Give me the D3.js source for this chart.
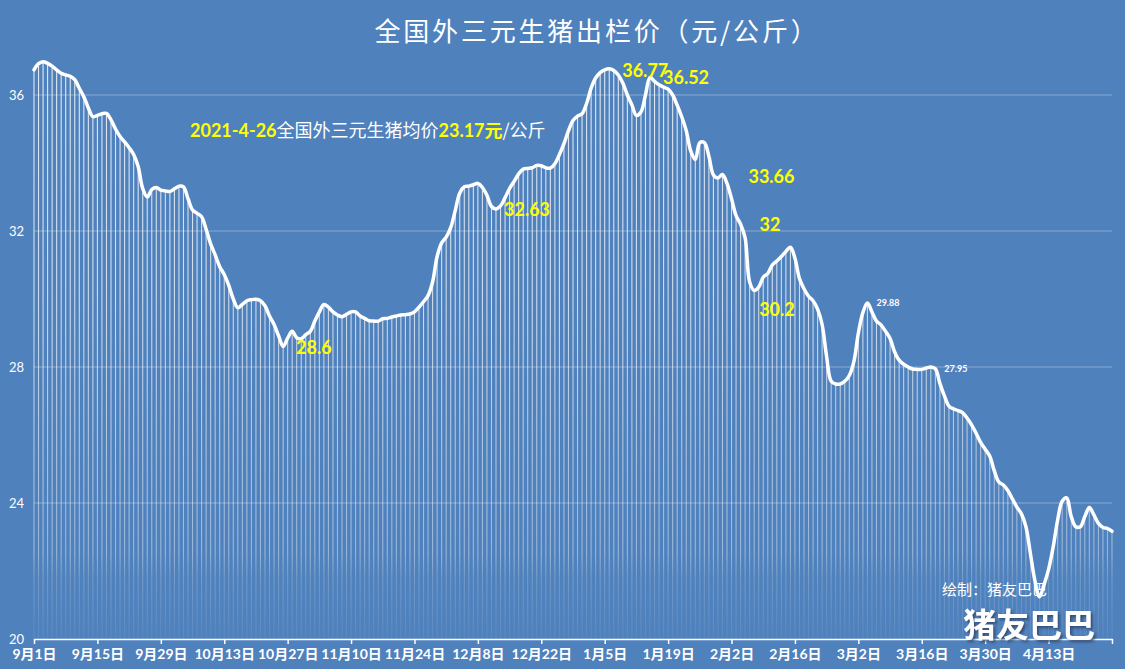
<!DOCTYPE html>
<html><head><meta charset="utf-8">
<script src="https://cdn.jsdelivr.net/npm/d3@7"></script>
<style>html,body{margin:0;padding:0;background:#4f81bd;} svg{display:block;}</style>
</head><body>
<svg id="chart" width="1125" height="669"></svg>
<script>
// ---- data ----
const titleText = "全国外三元生猪出栏价（元/公斤）";
const startDate = "2020-09-01";
// daily price, day 0 = 9月1日
const prices = [
36.74,36.92,36.98,36.93,36.85,36.74,36.64,36.59,36.55,36.45,
36.2,35.95,35.62,35.36,35.4,35.45,35.46,35.27,35.0,34.78,
34.62,34.45,34.25,33.9,33.25,33.0,33.22,33.28,33.2,33.18,
33.16,33.24,33.32,33.3,32.95,32.62,32.52,32.42,32.05,31.62,
31.3,30.95,30.72,30.4,30.0,29.74,29.84,29.95,29.98,29.99,
29.95,29.8,29.5,29.25,28.92,28.6,28.85,29.05,28.86,28.83,
28.95,29.05,29.35,29.62,29.84,29.76,29.62,29.53,29.48,29.55,
29.62,29.62,29.5,29.43,29.36,29.35,29.35,29.42,29.43,29.47,
29.5,29.53,29.54,29.56,29.62,29.76,29.92,30.1,30.5,31.25,
31.65,31.82,32.1,32.6,33.12,33.3,33.32,33.36,33.4,33.28,
33.05,32.72,32.65,32.74,32.98,33.25,33.46,33.68,33.82,33.84,
33.86,33.93,33.92,33.86,33.85,33.98,34.25,34.57,34.95,35.25,
35.38,35.45,35.75,36.2,36.5,36.66,36.74,36.77,36.72,36.59,
36.35,36.0,35.71,35.4,35.5,36.0,36.52,36.4,36.3,36.23,
36.17,36.0,35.7,35.36,34.95,34.35,34.1,34.6,34.6,34.2,
33.65,33.56,33.66,33.4,32.95,32.45,32.2,31.8,30.5,30.25,
30.35,30.64,30.75,31.0,31.12,31.25,31.4,31.52,31.2,30.6,
30.3,30.08,29.95,29.7,29.25,28.3,27.58,27.5,27.5,27.58,
27.75,28.15,29.0,29.6,29.88,29.62,29.35,29.24,29.05,28.84,
28.45,28.2,28.08,28.0,27.94,27.93,27.93,27.97,28.0,27.95,
27.52,27.15,26.85,26.77,26.72,26.66,26.5,26.3,26.05,25.78,
25.58,25.38,24.95,24.62,24.53,24.37,24.12,23.88,23.68,23.3,
22.5,21.7,21.24,21.6,22.05,22.7,23.5,24.05,24.15,23.6,
23.3,23.3,23.6,23.87,23.65,23.4,23.28,23.25,23.17
];
const yTicks = [20, 24, 28, 32, 36];
const xTickDays = [0,14,28,42,56,70,84,98,112,126,140,154,168,182,196,210,224,238];
const xTickLabels = ["9月1日","9月15日","9月29日","10月13日","10月27日","11月10日","11月24日","12月8日","12月22日","1月5日","1月19日","2月2日","2月16日","3月2日","3月16日","3月30日","4月13日",""];
// big yellow value labels
const bigLabelDays = [127, 136, 152, 156, 159, 102, 55];
const bigLabelTexts = ["36.77", "36.52", "33.66", "32", "30.2", "32.63", "28.6"];
const bigLabelDx = [13, 13, 26, 19, 5, 8, 13];
const bigLabelDy = [8, 7, 8, 7, 25, 7, 7];
const smallLabelDays = [184, 199];
const smallLabelTexts = ["29.88", "27.95"];
const noteParts = [["2021-4-26","y"],["全国外三元生猪均价","w"],["23.17元","y"],["/公斤","w"]];
const creditText = "绘制：猪友巴巴";
const brandText = "猪友巴巴";

// ---- drawing ----
const svg = d3.select("#chart");
const W = 1125, H = 669;
const x = d3.scaleLinear().domain([0, 238]).range([34, 1112]);
const y = d3.scaleLinear().domain([20, 38]).range([639, 27]);
const data = prices.map((v, i) => ({i, v}));
const numFont = "Lato, 'Noto Sans CJK SC', sans-serif";
const cjkFont = "'Noto Sans CJK SC', 'Noto Sans', sans-serif";

svg.append("rect").attr("width", W).attr("height", H).attr("fill", "#4f81bd");

const defs = svg.append("defs");
const g1 = defs.append("linearGradient").attr("id", "dropGrad")
  .attr("gradientUnits", "userSpaceOnUse")
  .attr("x1", 0).attr("x2", 0).attr("y1", y(38)).attr("y2", y(20));
[[0, 0.85], [0.45, 0.72], [0.86, 0.42], [0.9, 0.2], [1, 0.06]].forEach(([o, a]) =>
  g1.append("stop").attr("offset", o).attr("stop-color", "#fff").attr("stop-opacity", a));
const sh = defs.append("filter").attr("id", "shadow").attr("x", "-10%").attr("y", "-20%").attr("width", "130%").attr("height", "150%");
sh.append("feDropShadow").attr("dx", 2).attr("dy", 2).attr("stdDeviation", 1.5).attr("flood-color", "#2a3f5c").attr("flood-opacity", 0.8);

// gridlines
svg.append("g").selectAll("line").data(yTicks.filter(t => t > 20)).join("line")
  .attr("x1", x(0)).attr("x2", x(238))
  .attr("y1", d => y(d)).attr("y2", d => y(d))
  .attr("stroke", "#fff").attr("stroke-opacity", 0.35).attr("stroke-width", 1);

// drop lines
svg.append("g").selectAll("line").data(data).join("line")
  .attr("x1", d => x(d.i)).attr("x2", d => x(d.i))
  .attr("y1", d => y(d.v)).attr("y2", y(20))
  .attr("stroke", "url(#dropGrad)").attr("stroke-width", 1.1);

// main line
svg.append("path").datum(data)
  .attr("d", d3.line().x(d => x(d.i)).y(d => y(d.v)).curve(d3.curveCatmullRom.alpha(0.5)))
  .attr("fill", "none").attr("stroke", "#fff").attr("stroke-width", 3.5)
  .attr("stroke-linejoin", "round").attr("stroke-linecap", "round");

// x axis
const xAxis = svg.append("g").attr("transform", `translate(0,${y(20)})`)
  .call(d3.axisBottom(x).tickValues(xTickDays).tickFormat((d, i) => xTickLabels[i]).tickSize(5).tickSizeOuter(0).tickPadding(5));
xAxis.select(".domain").attr("stroke", "#fff").attr("stroke-width", 1.5);
xAxis.selectAll(".tick line").attr("stroke", "#fff").attr("stroke-width", 1.5);
xAxis.selectAll(".tick text").attr("fill", "#fff").attr("font-size", 14).attr("font-weight", "bold")
  .attr("font-family", numFont);

// y axis labels
const yAxis = svg.append("g").attr("transform", `translate(${x(0)},0)`)
  .call(d3.axisLeft(y).tickValues(yTicks).tickSize(0).tickPadding(10));
yAxis.select(".domain").remove();
yAxis.selectAll(".tick text").attr("fill", "#fff").attr("font-size", 13).attr("font-family", numFont);

// title
svg.append("text").attr("x", 597).attr("y", 41).attr("text-anchor", "middle")
  .attr("fill", "#fff").attr("font-size", 26).attr("letter-spacing", 2.8)
  .attr("font-family", cjkFont).text(titleText);

// yellow labels
svg.append("g").selectAll("text").data(bigLabelDays).join("text")
  .attr("x", (d, i) => x(d) + bigLabelDx[i])
  .attr("y", (d, i) => y(prices[d]) + bigLabelDy[i])
  .attr("fill", "#ffff00").attr("font-size", 18).attr("font-weight", "bold")
  .attr("font-family", numFont).text((d, i) => bigLabelTexts[i]);

svg.append("g").selectAll("text").data(smallLabelDays).join("text")
  .attr("x", d => x(d) + 9).attr("y", d => y(prices[d]) + 3)
  .attr("fill", "#fff").attr("font-size", 9).attr("font-weight", "bold")
  .attr("font-family", numFont).text((d, i) => smallLabelTexts[i]);

// note line
const note = svg.append("text").attr("x", 190).attr("y", 137).attr("font-size", 18).attr("font-family", numFont);
note.selectAll("tspan").data(noteParts).join("tspan")
  .attr("fill", d => d[1] === "y" ? "#ffff00" : "#fff")
  .attr("font-weight", d => d[1] === "y" ? "bold" : "normal")
  .attr("font-family", d => d[1] === "y" ? numFont : cjkFont)
  .text(d => d[0]);

// credits
svg.append("text").attr("x", 942).attr("y", 595).attr("fill", "#fff").attr("font-size", 15)
  .attr("font-family", cjkFont).text(creditText);
svg.append("text").attr("x", 963).attr("y", 637).attr("fill", "#fff").attr("font-size", 33)
  .attr("font-weight", "bold").attr("font-family", cjkFont).attr("filter", "url(#shadow)").text(brandText);
</script>
</body></html>
